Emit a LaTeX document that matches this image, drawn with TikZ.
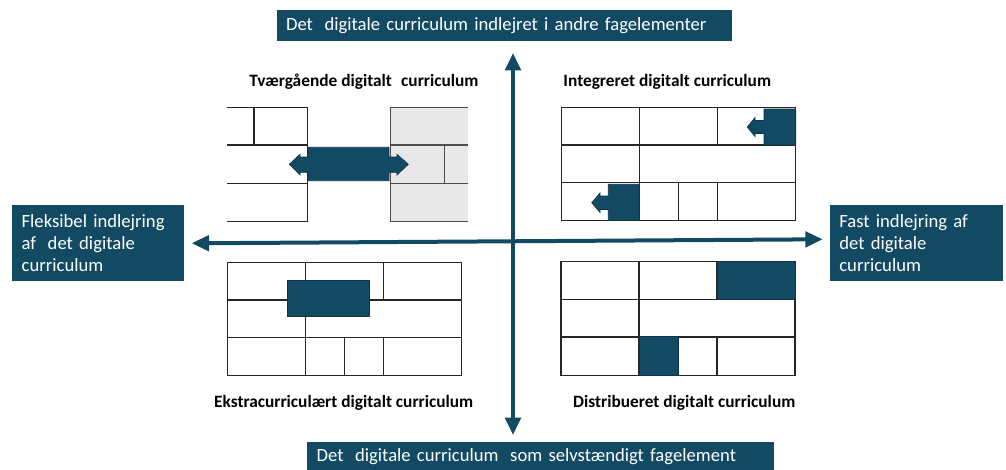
\documentclass[tikz,border=0pt]{standalone}
\usepackage{fontspec}
\setmainfont{Carlito}
\usetikzlibrary{arrows.meta}
\definecolor{petrol}{HTML}{134A63}
\definecolor{wallgray}{HTML}{E8E8E8}
\begin{document}
\begin{tikzpicture}[x=0.75pt,y=-0.75pt,
  box/.style={fill=petrol,text=white,inner ysep=0pt,inner xsep=7pt,align=left,font=\fontsize{14}{16.5}\selectfont},
  title/.style={font=\bfseries\fontsize{13}{15}\selectfont},
  wall/.style={line width=0.8pt,draw=black!85},
  block/.style={fill=petrol,draw=petrol!70!black,line width=0.5pt},
  axis/.style={line width=3pt,draw=petrol,{Triangle[length=13pt,width=11.5pt]}-{Triangle[length=13pt,width=11.5pt]}}]
\useasboundingbox (0,0) rectangle (1006,469);
% boxes at the ends of the axes
\node[box,text width=327.25pt,minimum height=23pt](topbox)at(504.2,25.3){Det\kern4pt\ digitale curriculum indlejret i andre fagelementer};
\node[box,text width=336pt,minimum height=23pt](botbox)at(540.6,457){Det\kern4pt\ digitale curriculum\kern4pt\ som selvstændigt fagelement};
\node[box,text width=115pt,minimum height=56.8pt](leftbox)at(98.3,242.8){Fleksibel indlejring\\af\kern4pt\ det digitale\\curriculum};
\node[box,text width=115.5pt,minimum height=56.8pt](rightbox)at(916.3,242.8){Fast indlejring af\\det digitale\\curriculum};
% axes
\coordinate(hl)at(191.7,243.3);\coordinate(hr)at(822.7,239.3);
\coordinate(vt)at(513,53);\coordinate(vb)at(513,435);
\draw[axis](hl)--(hr);
\draw[axis](vt)--(vb);
% titles
\node[title](ttvaer)at(364,82){Tværgående digitalt\kern4pt\ curriculum};
\node[title](tinteg)at(667.3,82){Integreret digitalt curriculum};
\node[title](tekstra)at(343.7,403){Ekstracurriculært digitalt curriculum};
\node[title](tdistr)at(684.3,403){Distribueret digitalt curriculum};
% tværgående
\draw[wall](227,107.3)--(307.3,107.3)--(307.3,221.7)--(227,221.7);
\draw[wall](227,145)--(307.3,145)(227,183.3)--(307.3,183.3)(254,107.3)--(254,145);
\fill[wallgray](390.7,107.3)rectangle(467.7,221.7);
\draw[wall,draw=black!70](467.7,107.3)--(390.7,107.3)--(390.7,221.7)--(467.7,221.7);
\draw[wall,draw=black!70](390.7,145)--(467.7,145)(390.7,183.3)--(467.7,183.3)(444.7,145)--(444.7,183.3);
\draw[block](308,147.3)--(389,147.3)--(389,157)--(397,157)--(397,154.3)--(408.3,164.3)--(397,175)--(397,172.3)--(389,172.3)--(389,180.7)
  --(308,180.7)--(308,172.3)--(300,172.3)--(300,175)--(289.3,164.3)--(300,154.3)--(300,157)--(308,157)--cycle;
% the other three walls
\foreach \ox/\oy in {561.7/107.3,227.3/262.3,561/261.7}{
  \begin{scope}[shift={(\ox,\oy)}]
  \draw[wall](0,0)rectangle(234,113.5);
  \draw[wall](0,37.7)--(234,37.7)(0,75.3)--(234,75.3);
  \draw[wall](78,0)--(78,37.7)(156,0)--(156,37.7);
  \draw[wall](78,37.7)--(78,113.5)(117,75.3)--(117,113.5)(156,75.3)--(156,113.5);
  \end{scope}
}
% integreret
\draw[block](764,109)--(795.7,109)--(795.7,145)--(764,145)--(764,133.5)--(755,133.5)--(755,136.5)--(747.3,127)
  --(755,117.5)--(755,120.5)--(764,120.5)--cycle;
\draw[block](608.3,184.3)--(639.3,184.3)--(639.3,220.5)--(608.3,220.5)--(608.3,209.5)--(600,209.5)--(600,212.5)--(591.7,202.7)
  --(600,193)--(600,196)--(608.3,196)--cycle;
% ekstracurriculært
\draw[block](287.3,280)rectangle(369.3,316);
% distribueret
\draw[block](717.3,261.7)rectangle(795.7,299.3);
\draw[block](639.3,336.7)rectangle(678.3,375.2);
\end{tikzpicture}
\end{document}
